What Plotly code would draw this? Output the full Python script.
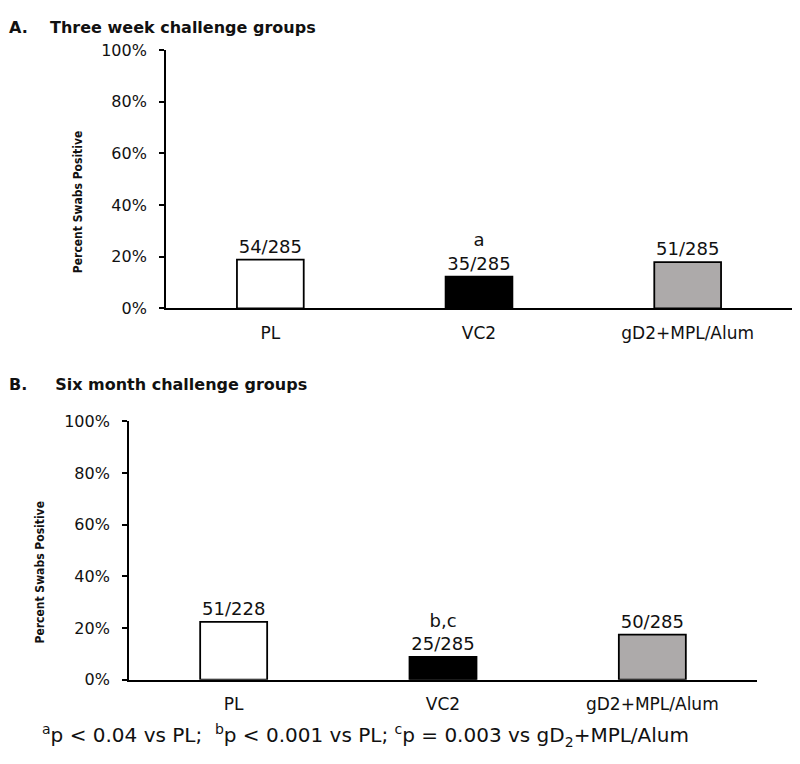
import plotly.graph_objects as go

# data
groups = ['PL', 'VC2', 'gD2+MPL/Alum']
three_week_pct = [18.9, 12.3, 17.9]
three_week_lbl = ['54/285', 'a<br>35/285', '51/285']
six_month_pct = [22.4, 8.8, 17.5]
six_month_lbl = ['51/228', 'b,c<br>25/285', '50/285']
bar_colors = ['#FFFFFF', '#000000', '#ADAAAA']

# page body has an 8px margin, so the figure is drawn 16px smaller
OFF = 8
W, H = 800 - 2 * OFF, 764 - 2 * OFF
font = 'DejaVu Sans'
narrow = 'Liberation Sans Narrow, DejaVu Sans Condensed, Roboto, sans-serif'


def px_x(x):
    return min(1, max(0, (x - OFF) / W))


def px_y(y):
    return min(1, max(0, 1 - (y - OFF) / H))


def bar_trace(values, labels, xa, ya):
    return go.Bar(x=groups, y=values, text=labels, textposition='outside',
                  constraintext='none', cliponaxis=False,
                  textfont=dict(family=font, size=18, color='#111'),
                  marker=dict(color=bar_colors, line=dict(color='#000', width=1.8)),
                  width=0.32, xaxis=xa, yaxis=ya, showlegend=False, hoverinfo='skip')


fig = go.Figure()
fig.add_trace(bar_trace(three_week_pct, three_week_lbl, 'x', 'y'))
fig.add_trace(bar_trace(six_month_pct, six_month_lbl, 'x2', 'y2'))

yax = dict(range=[0, 100], dtick=20, ticksuffix='%', showgrid=False, zeroline=False,
           showline=True, linecolor='#000', linewidth=1.8, ticks='outside', ticklen=5,
           tickcolor='#000', tickwidth=1.5, ticklabelstandoff=9,
           tickfont=dict(family=font, size=16, color='#111'), fixedrange=True)
xax = dict(showgrid=False, showline=True, linecolor='#000', linewidth=1.5, ticks='',
           ticklabelstandoff=8, tickfont=dict(family=font, size=17, color='#111'),
           fixedrange=True)

fig.update_layout(
    width=W, height=H, margin=dict(l=0, r=0, t=0, b=0),
    paper_bgcolor='white', plot_bgcolor='white',
    xaxis=dict(xax, domain=[px_x(166), px_x(798)], anchor='y'),
    yaxis=dict(yax, domain=[px_y(307), px_y(42)], anchor='x'),
    xaxis2=dict(xax, domain=[px_x(129), px_x(757)], anchor='y2'),
    yaxis2=dict(yax, domain=[px_y(688), px_y(423)], anchor='x2'),
)

title_font = dict(family=font, size=16, color='#111')
annots = [
    dict(text='<b>A.    Three week challenge groups</b>', x=0, y=1, borderpad=0,
         xanchor='left', yanchor='top', font=title_font),
    dict(text='<b>B.     Six month challenge groups</b>', x=0, y=px_y(385), borderpad=0,
         xanchor='left', yanchor='middle', font=title_font),
    dict(text='<b>Percent Swabs Positive</b>', x=px_x(78), y=px_y(198), textangle=-90,
         xanchor='center', yanchor='middle', font=dict(family=narrow, size=12, color='#111')),
    dict(text='<b>Percent Swabs Positive</b>', x=px_x(40), y=px_y(578), textangle=-90,
         xanchor='center', yanchor='middle', font=dict(family=narrow, size=12, color='#111')),
    dict(text='<sup>a</sup>p < 0.04 vs PL;  <sup>b</sup>p < 0.001 vs PL; '
              '<sup>c</sup>p = 0.003 vs gD<sub>2</sub>+MPL/Alum',
         x=px_x(40), y=px_y(745), xanchor='left', yanchor='middle',
         font=dict(family=font, size=20, color='#111')),
]
for a in annots:
    fig.add_annotation(dict(a, xref='paper', yref='paper', showarrow=False))

fig.write_html('out.html')
